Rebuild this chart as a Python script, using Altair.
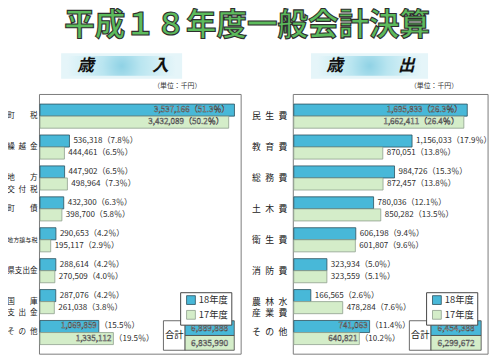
import altair as alt
import pandas as pd

FONT = "Noto Sans CJK JP"
years = ["18年度", "17年度"]

# 歳入 (revenue), 単位：千円
rev_cats = ["町税", "繰越金", "地方交付税", "町債", "地方譲与税", "県支出金", "国庫支出金", "その他"]
rev_labels = ["町　　税", "繰 越 金", "地　　方\n交 付 税", "町　　債", "地方譲与税", "県支出金", "国　　庫\n支 出 金", "そ の 他"]
rev_18 = [3537166, 536318, 447902, 432300, 290653, 288614, 287076, 1069859]
rev_18_pct = [51.3, 7.8, 6.5, 6.3, 4.2, 4.2, 4.2, 15.5]
rev_17 = [3432089, 444461, 498964, 398700, 195117, 270509, 261038, 1335112]
rev_17_pct = [50.2, 6.5, 7.3, 5.8, 2.9, 4.0, 3.8, 19.5]
rev_totals = [6889888, 6835990]

# 歳出 (expenditure)
exp_cats = ["民生費", "教育費", "総務費", "土木費", "衛生費", "消防費", "農林水産業費", "その他"]
exp_labels = ["民 生 費", "教 育 費", "総 務 費", "土 木 費", "衛 生 費", "消 防 費", "農 林 水\n産 業 費", "そ の 他"]
exp_18 = [1695833, 1156033, 984726, 780036, 606198, 323934, 166565, 741063]
exp_18_pct = [26.3, 17.9, 15.3, 12.1, 9.4, 5.0, 2.6, 11.4]
exp_17 = [1662411, 870051, 872457, 850282, 601807, 323559, 478284, 640821]
exp_17_pct = [26.4, 13.8, 13.8, 13.5, 9.6, 5.1, 7.6, 10.2]
exp_totals = [6454388, 6299672]

BLUE = "#48b8d8"
GREEN = "#d4edc9"
BLUE_EDGE = "#2b4f5c"
GREEN_EDGE = "#8e9e8c"
TXT = "#2e2e2e"
HALF = 6.1  # half of a bar's thickness: label offset from the category centre
LFS = 8.2   # bar label font size

one = pd.DataFrame({"k": [0]})


def bars_df(cats, a, pa, b, pb):
    rows = []
    for c, v1, p1, v2, p2 in zip(cats, a, pa, b, pb):
        rows.append({"cat": c, "year": years[0], "value": v1, "pct": p1})
        rows.append({"cat": c, "year": years[1], "value": v2, "pct": p2})
    return pd.DataFrame(rows)


def panel(df, cats, labels, totals, xdom, xrng, frame, lab_x, lab_size, small_cat,
          inside_cat, legend_xy, tot_x):
    ys = alt.Scale(domain=cats, range=[91.3, 342.7], paddingInner=0.22, paddingOuter=0.11)
    yo = alt.Scale(domain=years, paddingInner=0, paddingOuter=0)
    xs = alt.Scale(domain=xdom, range=xrng)
    Y = alt.Y("cat:N", scale=ys, axis=None)
    YO = alt.YOffset("year:N", scale=yo)
    X = alt.X("value:Q", scale=xs, axis=None)
    layers = []

    # frame
    layers.append(alt.Chart(one).mark_rect(fillOpacity=0, stroke="#7a7a7a", strokeWidth=1).encode(
        x=alt.value(frame[0]), x2=alt.value(frame[1]), y=alt.value(frame[2]), y2=alt.value(frame[3])))

    # bars
    layers.append(alt.Chart(df).mark_bar(strokeWidth=0.8).encode(
        y=Y, yOffset=YO, x=X,
        color=alt.Color("year:N", scale=alt.Scale(domain=years, range=[BLUE, GREEN]),
                        legend=alt.Legend(orient="none", legendX=legend_xy[0], legendY=legend_xy[1],
                                          title=None, strokeColor="#444", fillColor="white",
                                          padding=3, symbolOffset=3, symbolType="square",
                                          symbolSize=80, symbolStrokeColor="#444",
                                          symbolStrokeWidth=0.8, labelFont=FONT,
                                          labelFontSize=9.5, labelColor=TXT, labelOffset=3,
                                          rowPadding=1)),
        stroke=alt.Stroke("year:N", scale=alt.Scale(domain=years, range=[BLUE_EDGE, GREEN_EDGE]),
                          legend=None),
    ))

    base = alt.Chart(df).transform_calculate(
        num="format(datum.value, ',')"
    ).transform_calculate(
        pc="'（' + format(datum.pct, '.1f') + '％）'"
    ).transform_calculate(
        full="datum.num + datum.pc"
    )
    for yr, dy in ((years[0], -HALF), (years[1], HALF)):
        b = base.transform_filter(f"datum.year == '{yr}'")
        # outside labels
        layers.append(b.transform_filter(
            f"datum.cat != '{inside_cat}' && datum.cat != 'その他'"
        ).mark_text(align="left", baseline="middle", dx=4, dy=dy, font=FONT, fontSize=LFS,
                    color=TXT).encode(y=Y, x=X, text="full:N"))
        # inside labels
        layers.append(b.transform_filter(f"datum.cat == '{inside_cat}'").mark_text(
            align="right", baseline="middle", dx=-5, dy=dy, font=FONT, fontSize=LFS,
            fill="white", stroke="#3a3a3a", strokeWidth=0.45).encode(y=Y, x=X, text="full:N"))
        # split labels (その他)
        layers.append(b.transform_filter("datum.cat == 'その他'").mark_text(
            align="right", baseline="middle", dx=-2, dy=dy, font=FONT, fontSize=LFS,
            fill="white", stroke="#3a3a3a", strokeWidth=0.45).encode(y=Y, x=X, text="num:N"))
        layers.append(b.transform_filter("datum.cat == 'その他'").mark_text(
            align="left", baseline="middle", dx=1, dy=dy, font=FONT, fontSize=LFS,
            color=TXT).encode(y=Y, x=X, text="pc:N"))

    # category labels
    ldf = pd.DataFrame({"cat": cats, "label": [s.replace(" ", "\u2002") for s in labels]})
    layers.append(alt.Chart(ldf).mark_text(
        align="right", baseline="middle", lineBreak="\n", lineHeight=12, font=FONT, color="#222").encode(
        y=Y, x=alt.value(lab_x), text="label:N",
        size=alt.condition(f"datum.cat == '{small_cat}'", alt.value(6.2), alt.value(lab_size))))

    # totals table
    tdf = pd.DataFrame({"year": years, "total": totals})
    ty = alt.Scale(domain=years, range=[315, 345], paddingInner=0, paddingOuter=0)
    x0, x1, x2 = tot_x
    layers.append(alt.Chart(one).mark_rect(fill="white", stroke="#444", strokeWidth=0.8).encode(
        x=alt.value(x0), x2=alt.value(x1), y=alt.value(315), y2=alt.value(345)))
    layers.append(alt.Chart(one).mark_text(text="合計", font=FONT, fontSize=9.5, color="#222",
                                           align="center", baseline="middle").encode(
        x=alt.value((x0 + x1) / 2), y=alt.value(330)))
    layers.append(alt.Chart(tdf).mark_rect(stroke="#444", strokeWidth=0.8).encode(
        y=alt.Y("year:N", scale=ty, axis=None), x=alt.value(x1), x2=alt.value(x2),
        color=alt.Color("year:N", scale=alt.Scale(domain=years, range=[BLUE, GREEN]), legend=None)))
    layers.append(alt.Chart(tdf).transform_calculate(t="format(datum.total, ',')").mark_text(
        align="center", baseline="middle", font=FONT, fontSize=8.5, fill="white",
        stroke="#3a3a3a", strokeWidth=0.45).encode(
        y=alt.Y("year:N", scale=ty, axis=None), x=alt.value((x1 + x2) / 2), text="t:N"))
    return layers


def header(x0, x1, c1, c2, ch2, unit_x):
    grad = {"gradient": "radial", "x1": 0.5, "y1": 0.5, "r1": 0, "x2": 0.5, "y2": 0.5, "r2": 0.5,
            "stops": [{"offset": 0, "color": "#8fd2e5"}, {"offset": 0.35, "color": "#b9e5f0"},
                      {"offset": 0.75, "color": "#d6f0f6"}, {"offset": 1, "color": "#e5f5f9"}]}
    out = [alt.Chart(one).mark_rect(fill="#e5f5f9").encode(
        x=alt.value(x0), x2=alt.value(x1), y=alt.value(43), y2=alt.value(69)),
        alt.Chart(one).mark_rect(fill=grad).encode(
        x=alt.value(x0 + 6), x2=alt.value(x1 - 6), y=alt.value(46), y2=alt.value(66))]
    for cx, ch in ((c1, "歳"), (c2, ch2)):
        out.append(alt.Chart(one).mark_text(text=ch, font=FONT, fontSize=17, fontWeight="bold",
                                            fontStyle="italic", color="#111", align="center",
                                            baseline="middle").encode(x=alt.value(cx), y=alt.value(56)))
    out.append(alt.Chart(one).mark_text(text="（単位：千円）", font=FONT, fontSize=7, color="#333",
                                        align="center", baseline="middle").encode(
        x=alt.value(unit_x), y=alt.value(76)))
    return out


title = alt.Chart(one).mark_text(
    text="平成１８年度一般会計決算", font=FONT, fontSize=31, fontWeight="bold",
    fill="#5cbb5c", stroke="#2e2e2e", strokeWidth=1.1, align="center", baseline="middle"
).encode(x=alt.value(243), y=alt.value(16))

rev_df = bars_df(rev_cats, rev_18, rev_18_pct, rev_17, rev_17_pct)
exp_df = bars_df(exp_cats, exp_18, exp_18_pct, exp_17, exp_17_pct)

layers = [title]
layers += header(54, 177, 79, 155, "入", 172)
layers += header(308, 427, 332, 405, "出", 433)
layers += panel(rev_df, rev_cats, rev_labels, rev_totals, [0, 3700000], [32.5, 239.3],
                (32, 237, 85, 349), 30, 7.7, "地方譲与税", "町税", (175, 286), (158, 180, 230))
layers += panel(exp_df, exp_cats, exp_labels, exp_totals, [0, 1900000], [290.5, 488.1],
                (290, 488, 85, 349), 284, 9, "__none__", "民生費", (425, 286), (408, 430, 481))

chart = alt.layer(*layers).resolve_scale(
    x="independent", y="independent", yOffset="independent",
    color="independent", stroke="independent", size="independent"
).resolve_legend(color="independent").properties(
    width=492, height=352, autosize="none", padding=0
).configure_view(stroke=None)

chart.save("out.html", embed_options={"renderer": "svg", "actions": False})
